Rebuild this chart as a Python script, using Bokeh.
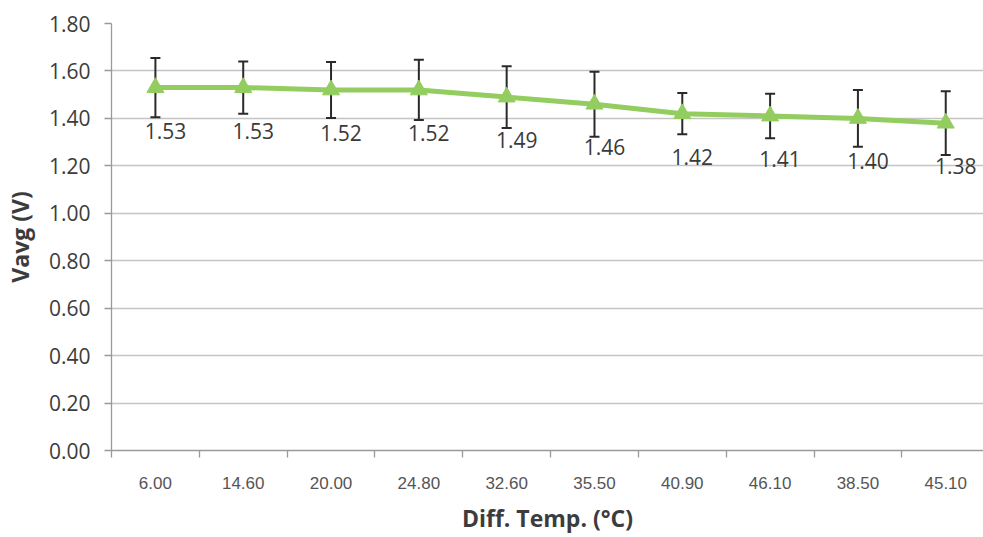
from bokeh.plotting import figure
from bokeh.models import (Range1d, FixedTicker, Whisker, ColumnDataSource, TeeHead,
                          PrintfTickFormatter)
from bokeh.core.properties import value
from bokeh.embed import file_html
from bokeh.resources import INLINE

# ---- data ----
temps = ["6.00", "14.60", "20.00", "24.80", "32.60", "35.50", "40.90", "46.10", "38.50", "45.10"]
vavg = [1.53, 1.53, 1.52, 1.52, 1.49, 1.46, 1.42, 1.41, 1.40, 1.38]
err = [0.125, 0.110, 0.118, 0.127, 0.130, 0.137, 0.087, 0.094, 0.120, 0.134]
y_ticks = [0.0, 0.2, 0.4, 0.6, 0.8, 1.0, 1.2, 1.4, 1.6, 1.8]

xs = list(range(len(temps)))
src = ColumnDataSource(dict(
    x=xs,
    y=vavg,
    upper=[v + e for v, e in zip(vavg, err)],
    lower=[v - e for v, e in zip(vavg, err)],
    label=[f"{v:.2f}" for v in vavg],
))

GREEN = "#93cd5f"
AXIS = "#9a9a9a"

p = figure(width=983, height=537, output_backend="svg", toolbar_location=None,
           x_range=Range1d(-0.5, 9.43), y_range=Range1d(0, 1.8),
           min_border_left=111, min_border_right=0, min_border_top=23, min_border_bottom=87)
p.outline_line_color = None
p.background_fill_color = "white"
p.border_fill_color = "white"

# grid
p.xgrid.visible = False
p.ygrid.ticker = FixedTicker(ticks=y_ticks)
p.ygrid.grid_line_color = "#c4c4c4"
p.ygrid.grid_line_width = 1.3

# y axis
ya = p.yaxis[0]
ya.ticker = FixedTicker(ticks=y_ticks)
ya.formatter = PrintfTickFormatter(format="%.2f")
ya.axis_line_color = AXIS
ya.axis_line_width = 1.3
ya.major_tick_line_color = AXIS
ya.major_tick_line_width = 1.3
ya.major_tick_out = 7
ya.major_tick_in = 0
ya.minor_tick_line_color = None
ya.major_label_standoff = 14
ya.major_label_text_font = "Open Sans"
ya.major_label_text_font_size = "21px"
ya.major_label_text_color = "#3c3c3c"
ya.axis_label = "Vavg (V)"
ya.axis_label_text_font = "Open Sans"
ya.axis_label_text_font_style = "bold"
ya.axis_label_text_font_size = "23px"
ya.axis_label_text_color = "#3c3c3c"
ya.axis_label_standoff = 10

# x axis: labels at category centres, tick marks at category boundaries
xa = p.xaxis[0]
xa.ticker = FixedTicker(ticks=xs, minor_ticks=[i - 0.5 for i in xs])
xa.major_label_overrides = {i: t for i, t in zip(xs, temps)}
xa.axis_line_color = AXIS
xa.axis_line_width = 1.3
xa.major_tick_line_color = None
xa.major_tick_out = 0
xa.major_tick_in = 0
xa.minor_tick_line_color = AXIS
xa.minor_tick_line_width = 1.3
xa.minor_tick_out = 7
xa.minor_tick_in = 0
xa.major_label_standoff = 19
xa.major_label_text_font = "Liberation Sans"
xa.major_label_text_font_size = "17px"
xa.major_label_text_color = "#555555"
xa.axis_label = "Diff. Temp. (\u00b0C)"
xa.axis_label_text_font = "Open Sans"
xa.axis_label_text_font_style = "bold"
xa.axis_label_text_font_size = "23px"
xa.axis_label_text_color = "#3c3c3c"
xa.axis_label_standoff = 10

# error bars (behind the line/markers)
whisk = Whisker(base="x", upper="upper", lower="lower", source=src, dimension="height",
                line_color="#2a2a2a", line_width=2,
                upper_head=TeeHead(size=10, line_color="#2a2a2a", line_width=2),
                lower_head=TeeHead(size=10, line_color="#2a2a2a", line_width=2),
                level="underlay")
p.add_layout(whisk)

p.line("x", "y", source=src, line_color=GREEN, line_width=5)
p.scatter("x", "y", source=src, marker="triangle", size=17,
          fill_color=GREEN, line_color=GREEN)

p.text("x", "y", text="label", source=src, text_font=value("Open Sans"),
       text_font_size="21px", text_color="#3a3a3a", text_align="center",
       text_baseline="middle", x_offset=10, y_offset=43)

open("out.html", "w").write(file_html(p, INLINE))
